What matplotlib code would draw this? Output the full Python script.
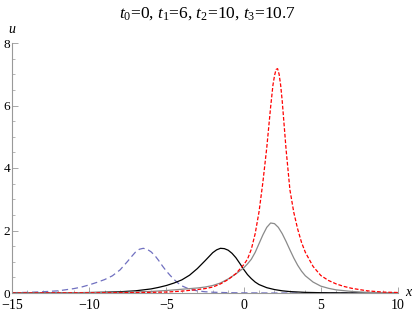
import matplotlib
matplotlib.use("Agg")
import matplotlib.pyplot as plt
from matplotlib.ticker import MultipleLocator

# values
x_t0 = [-15, -14, -13, -12, -11, -10.5, -10, -9.5, -9, -8.5, -8, -7.5, -7.25, -7,
        -6.75, -6.5, -6.25, -6, -5.75, -5.5, -5.25, -5, -4.75, -4.5, -4.25, -4,
        -3.5, -3, -2.5, -2, -1, 0, 2, 4, 6, 8, 10]
u_t0 = [0.01, 0.02, 0.04, 0.07, 0.14, 0.19, 0.26, 0.34, 0.43, 0.55, 0.74, 1.02, 1.17, 1.31,
        1.40, 1.43, 1.40, 1.32, 1.20, 1.04, 0.86, 0.70, 0.56, 0.43, 0.32, 0.23,
        0.12, 0.07, 0.04, 0.025, 0.01, 0.005, 0.0, 0.0, 0.0, 0.0, 0.0]

x_t1 = [-15, -12, -10, -9, -8, -7, -6, -5.5, -5, -4.5, -4, -3.5, -3, -2.5, -2.25, -2,
        -1.75, -1.5, -1.25, -1, -0.75, -0.5, -0.25, 0, 0.25, 0.5, 0.75, 1, 1.5, 2,
        2.5, 3, 4, 5, 7, 10]
u_t1 = [0.0, 0.005, 0.015, 0.025, 0.04, 0.07, 0.13, 0.18, 0.24, 0.32, 0.42, 0.57, 0.78, 1.03, 1.16, 1.29,
        1.38, 1.43, 1.42, 1.37, 1.27, 1.13, 0.95, 0.76, 0.59, 0.46, 0.35, 0.27, 0.17, 0.11,
        0.07, 0.045, 0.02, 0.01, 0.003, 0.0]

x_t2 = [-15, -10, -8, -6, -5, -4, -3, -2.5, -2, -1.5, -1, -0.5, 0, 0.25, 0.5, 0.75, 1,
        1.25, 1.5, 1.75, 2, 2.25, 2.5, 2.75, 3, 3.25, 3.5, 3.75, 4, 4.5, 5, 5.5, 6, 7, 8, 10]
u_t2 = [0.0, 0.01, 0.02, 0.05, 0.08, 0.12, 0.16, 0.19, 0.24, 0.32, 0.45, 0.61, 0.80, 0.93, 1.08, 1.30, 1.58,
        1.86, 2.10, 2.24, 2.22, 2.10, 1.90, 1.65, 1.38, 1.12, 0.89, 0.70, 0.55, 0.35, 0.22, 0.15, 0.10, 0.05, 0.02, 0.005]

x_t3 = [-15, -10, -8, -6, -5, -4, -3, -2.5, -2, -1.5, -1, -0.5, 0, 0.25, 0.5, 0.75, 1, 1.25,
        1.5, 1.75, 1.9, 2, 2.1, 2.2, 2.3, 2.4, 2.5, 2.75, 3, 3.25, 3.5, 3.75, 4, 4.5, 5, 5.5,
        6, 6.5, 7, 8, 9, 10]
u_t3 = [0.0, 0.005, 0.01, 0.02, 0.03, 0.06, 0.11, 0.14, 0.19, 0.29, 0.43, 0.62, 0.90, 1.08, 1.40, 1.90, 2.60, 3.55,
        4.65, 5.95, 6.65, 6.95, 7.15, 7.18, 7.00, 6.65, 6.15, 4.60, 3.30, 2.58, 2.05, 1.62, 1.30, 0.85, 0.56, 0.40,
        0.29, 0.21, 0.15, 0.07, 0.03, 0.015]

plt.rcParams.update({
    "font.family": "Liberation Serif",
    "mathtext.fontset": "custom",
    "mathtext.rm": "Liberation Serif",
    "mathtext.it": "Liberation Serif:italic",
})

fig = plt.figure(figsize=(4.15, 3.12), dpi=100)
ax = fig.add_axes([12 / 415, 19 / 312, 386 / 415, 250 / 312])

ax.plot(x_t0, u_t0, color="#7070c0", lw=0.9, dashes=(5, 3))
ax.plot(x_t1, u_t1, color="black", lw=0.9)
ax.plot(x_t2, u_t2, color="#8a8a8a", lw=0.9)
ax.plot(x_t3, u_t3, color="red", lw=0.9, dashes=(3, 1.5))

ax.set_xlim(-15, 10)
ax.set_ylim(0, 8)
ax.xaxis.set_major_locator(MultipleLocator(5))
ax.xaxis.set_minor_locator(MultipleLocator(1))
ax.yaxis.set_major_locator(MultipleLocator(2))
ax.yaxis.set_minor_locator(MultipleLocator(0.5))

for side in ("top", "right"):
    ax.spines[side].set_visible(False)
for side in ("left", "bottom"):
    ax.spines[side].set_color("#999999")
    ax.spines[side].set_linewidth(0.8)
ax.tick_params(which="both", direction="in", color="#999999", labelsize=10)
ax.tick_params(axis="y", pad=1.5, labelsize=9.5)
ax.tick_params(axis="x", pad=4.5)
ax.tick_params(which="major", length=4, width=0.6)
ax.tick_params(which="minor", length=2, width=0.5)

ax.text(1.03, 0.0, "$x$", transform=ax.transAxes, fontsize=10, ha="center", va="center")
ax.text(0.0, 1.055, "$u$", transform=ax.transAxes, fontsize=10, ha="center", va="center")

fig.text(0.5, 1 - 14 / 312, r"$t_0$=0, $t_1$=6, $t_2$=10, $t_3$=10.7",
         ha="center", va="center", fontsize=12.5)

fig.savefig("out.png", dpi=100)
